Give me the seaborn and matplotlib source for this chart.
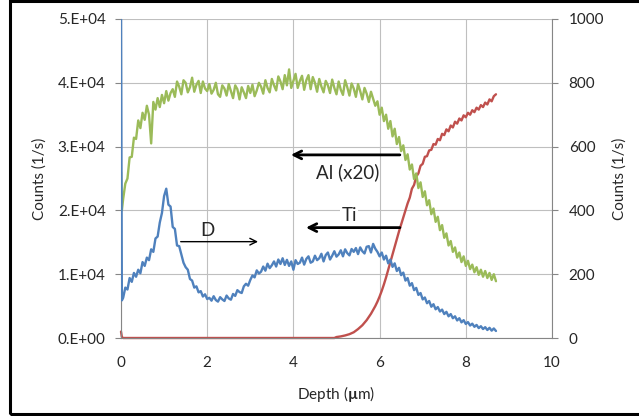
import numpy as np
import pandas as pd
import matplotlib
matplotlib.use('Agg')
import matplotlib.pyplot as plt
import seaborn as sns
from matplotlib.ticker import FuncFormatter
from matplotlib.patches import Rectangle

# depth profile data (Al already x20, D on the right axis)
depth = [0.0, 0.02,
         0.05, 0.1, 0.15, 0.2, 0.25, 0.3, 0.35, 0.4, 0.45, 0.5, 0.55, 0.6, 0.65, 0.7, 0.75, 0.8, 0.85, 0.9, 0.95, 1.0,
         1.05, 1.1, 1.15, 1.2, 1.25, 1.3, 1.35, 1.4, 1.45, 1.5, 1.55, 1.6, 1.65, 1.7, 1.75, 1.8, 1.85, 1.9, 1.95, 2.0,
         2.05, 2.1, 2.15, 2.2, 2.25, 2.3, 2.35, 2.4, 2.45, 2.5, 2.55, 2.6, 2.65, 2.7, 2.75, 2.8, 2.85, 2.9, 2.95, 3.0,
         3.05, 3.1, 3.15, 3.2, 3.25, 3.3, 3.35, 3.4, 3.45, 3.5, 3.55, 3.6, 3.65, 3.7, 3.75, 3.8, 3.85, 3.9, 3.95, 4.0,
         4.05, 4.1, 4.15, 4.2, 4.25, 4.3, 4.35, 4.4, 4.45, 4.5, 4.55, 4.6, 4.65, 4.7, 4.75, 4.8, 4.85, 4.9, 4.95, 5.0,
         5.05, 5.1, 5.15, 5.2, 5.25, 5.3, 5.35, 5.4, 5.45, 5.5, 5.55, 5.6, 5.65, 5.7, 5.75, 5.8, 5.85, 5.9, 5.95, 6.0,
         6.05, 6.1, 6.15, 6.2, 6.25, 6.3, 6.35, 6.4, 6.45, 6.5, 6.55, 6.6, 6.65, 6.7, 6.75, 6.8, 6.85, 6.9, 6.95, 7.0,
         7.05, 7.1, 7.15, 7.2, 7.25, 7.3, 7.35, 7.4, 7.45, 7.5, 7.55, 7.6, 7.65, 7.7, 7.75, 7.8, 7.85, 7.9, 7.95, 8.0,
         8.05, 8.1, 8.15, 8.2, 8.25, 8.3, 8.35, 8.4, 8.45, 8.5, 8.55, 8.6, 8.65, 8.7]

d_counts = [1050, 118,
            126, 158, 152, 188, 176, 204, 192, 214, 203, 238, 226, 252, 244, 278, 270, 312, 318, 362, 392, 445,
            468, 418, 412, 348, 342, 290, 288, 262, 236, 222, 214, 185, 180, 158, 162, 143, 147, 130, 137, 122,
            126, 117, 131, 119, 114, 128, 121, 116, 133, 124, 120, 138, 132, 150, 144, 141, 162, 170, 164, 182,
            196, 190, 212, 202, 208, 224, 211, 233, 219, 228, 240, 224, 246, 232, 250, 229, 245, 226, 240, 214,
            244, 232, 236, 252, 230, 248, 256, 236, 240, 258, 244, 250, 264, 240, 260, 268, 246, 258, 272, 255,
            262, 275, 256, 278, 266, 259, 279, 270, 282, 263, 284, 272, 265, 286, 288, 268, 295, 280, 270, 256,
            268, 246, 258, 234, 246, 223, 234, 210, 220, 197, 205, 180, 188, 164, 172, 150, 157, 135, 141, 121,
            127, 109, 116, 98, 106, 90, 97, 83, 89, 75, 82, 68, 75, 62, 68, 55, 62, 49, 56, 44,
            50, 39, 45, 35, 41, 31, 37, 28, 34, 25, 32, 23, 30, 22]

al_counts = [26000, 20000,
             21800, 24200, 25000, 28300, 28400, 31400, 31200, 34100, 32900, 35300, 34200, 36400, 35000, 30500, 37000, 35800, 37600, 36200, 38100, 36800,
             38700, 37200, 38400, 39000, 37800, 40200, 39400, 38200, 40400, 40000, 38500, 39300, 40800, 38600, 39700, 40300, 38400, 40200, 39100, 38700,
             39800, 38300, 38900, 40000, 38200, 37800, 39600, 39100, 38000, 39800, 38700, 37600, 39600, 39000, 37400, 39300, 38500, 37600, 39500, 38400,
             39700, 37900, 38800, 40000, 39400, 38300, 40400, 39200, 38500, 40600, 39600, 38800, 41000, 40200, 39000, 41200, 39600, 42100, 39200, 40300,
             41400, 39200, 40300, 41100, 38900, 40400, 41200, 39000, 40900, 40000, 38600, 40600, 39400, 38500, 40300, 39600, 38400, 40500, 39200, 38200,
             40200, 38900, 38100, 40400, 39300, 38000, 39900, 39100, 37800, 39800, 38700, 37400, 39200, 38300, 37000, 38600, 37500, 36400, 37100, 35000,
             36100, 34000, 35000, 32800, 34000, 31600, 32800, 30400, 31500, 29300, 30200, 27900, 28800, 26400, 27200, 24900, 25800, 23500, 24400, 22100,
             23000, 20800, 21600, 19400, 20300, 18200, 19000, 16900, 17700, 15700, 16400, 14500, 15200, 13500, 14200, 12600, 13400, 11900, 12800, 11300,
             12100, 10800, 11500, 10300, 11100, 9900, 10700, 9600, 10500, 9400, 10200, 9100, 10000, 8900]

ti_counts = [1000, 150,
             0, 0, 0, 0, 0, 0, 0, 0, 0, 0, 0, 0, 0, 0, 0, 0, 0, 0, 0, 0,
             0, 0, 0, 0, 0, 0, 0, 0, 0, 0, 0, 0, 0, 0, 0, 0, 0, 0, 0, 0,
             0, 0, 0, 0, 0, 0, 0, 0, 0, 0, 0, 0, 0, 0, 0, 0, 0, 0, 0, 0,
             0, 0, 0, 0, 0, 0, 0, 0, 0, 0, 0, 0, 0, 0, 0, 0, 0, 0, 0, 0,
             0, 0, 0, 0, 0, 0, 0, 0, 0, 0, 0, 0, 0, 0, 0, 0, 0, 0, 0, 150,
             200, 250, 320, 400, 500, 600, 750, 900, 1150, 1400, 1700, 2000, 2400, 2800, 3300, 3800, 4400, 5000, 5700, 6500,
             7400, 8400, 9500, 10700, 11900, 13100, 14300, 15500, 16700, 17800, 18900, 20000, 21100, 22000, 23400, 24000, 25300, 25800, 27000, 27300,
             28400, 28500, 29400, 29500, 30400, 30300, 31200, 31000, 32000, 31800, 32700, 32400, 33300, 33000, 33900, 33600, 34400, 34100, 34900, 34600,
             35300, 35000, 35700, 35400, 36100, 35800, 36500, 36200, 36900, 36600, 37400, 37100, 37900, 38200]

left_ticks = [0, 10000, 20000, 30000, 40000, 50000]
right_ticks = [0, 200, 400, 600, 800, 1000]
x_ticks = [0, 2, 4, 6, 8, 10]

blue = '#4F81BD'
red = '#C0504D'
green = '#9BBB59'
axis_grey = '#868686'
grid_grey = '#BFBFBF'
txt = '#262626'

sns.set_style('white')
plt.rcParams['font.family'] = ['Lato', 'DejaVu Sans']
plt.rcParams['mathtext.fontset'] = 'custom'
plt.rcParams['mathtext.rm'] = 'Lato'
plt.rcParams['mathtext.bf'] = 'Lato:bold'
plt.rcParams['mathtext.it'] = 'Lato:italic'

df = pd.DataFrame({'depth': depth, 'D': d_counts, 'Al': al_counts, 'Ti': ti_counts})

fig = plt.figure(figsize=(6.39, 4.16), dpi=100)
ax = fig.add_axes([121 / 639, 78 / 416, 431 / 639, 319 / 416])
ax2 = ax.twinx()

sns.lineplot(data=df, x='depth', y='Ti', ax=ax, color=red, lw=1.7, clip_on=False)
sns.lineplot(data=df, x='depth', y='Al', ax=ax, color=green, lw=1.7)
sns.lineplot(data=df, x='depth', y='D', ax=ax2, color=blue, lw=1.7)

ax.set_xlim(0, 10)
ax.set_ylim(0, 50000)
ax2.set_ylim(0, 1000)
ax.set_xticks(x_ticks)
ax.set_yticks(left_ticks)
ax2.set_yticks(right_ticks)
ax.yaxis.set_major_formatter(FuncFormatter(lambda v, p: '0.E+00' if v == 0 else f'{int(round(v / 1e4))}.E+04'))

ax.grid(True, color=grid_grey, lw=0.8)
ax.set_axisbelow(True)
ax2.grid(False)

for s in ['top', 'right']:
    ax.spines[s].set_visible(False)
for s in ['left', 'bottom']:
    ax.spines[s].set_color(axis_grey)
    ax.spines[s].set_linewidth(0.8)
for s in ['top', 'left', 'bottom']:
    ax2.spines[s].set_visible(False)
ax2.spines['right'].set_color(axis_grey)
ax2.spines['right'].set_linewidth(0.8)

ax.tick_params(axis='y', length=4, width=0.8, color=axis_grey, pad=7, labelsize=11, labelcolor=txt)
ax.tick_params(axis='x', length=5, width=0.8, color=axis_grey, pad=8, labelsize=11, labelcolor=txt)
ax2.tick_params(axis='y', length=4, width=0.8, color=axis_grey, pad=8, labelsize=11, labelcolor=txt)

ax.set_xlabel(r'Depth ($\mathbf{µ}$m)', fontsize=11, color=txt)
ax.set_ylabel('Counts (1/s)', fontsize=11, color=txt)
ax2.set_ylabel('Counts (1/s)', fontsize=11, color=txt)
ax.xaxis.set_label_coords(0.5, -0.145)
ax.yaxis.set_label_coords(-0.172, 0.5)
ax2.yaxis.set_label_coords(1.14, 0.5)

# arrows pointing to the axis each series belongs to
ax.annotate('', xy=(3.94, 28700), xytext=(6.47, 28700),
            arrowprops=dict(arrowstyle='->', lw=2, color='black', shrinkA=0, shrinkB=0, mutation_scale=14))
ax.annotate('', xy=(4.29, 17300), xytext=(6.47, 17300),
            arrowprops=dict(arrowstyle='->', lw=2, color='black', shrinkA=0, shrinkB=0, mutation_scale=14))
ax.annotate('', xy=(3.18, 15100), xytext=(1.385, 15100),
            arrowprops=dict(arrowstyle='->', lw=1, color='black', shrinkA=0, shrinkB=0, mutation_scale=12))
ax.text(5.25, 25100, 'Al (x20)', fontsize=13.5, ha='center', va='baseline', color=txt)
ax.text(5.30, 18300, 'Ti', fontsize=13.5, ha='center', va='baseline', color=txt,
        bbox=dict(facecolor='white', edgecolor='none', pad=1))
ax.text(2.0, 16000, 'D', fontsize=13.5, ha='center', va='baseline', color=txt)

fig.patches.append(Rectangle((10 / 639, 2 / 416), 1.0, 1 - 3 / 416, transform=fig.transFigure,
                             fill=False, edgecolor='black', lw=2.2))

fig.savefig('out.png', dpi=100)
